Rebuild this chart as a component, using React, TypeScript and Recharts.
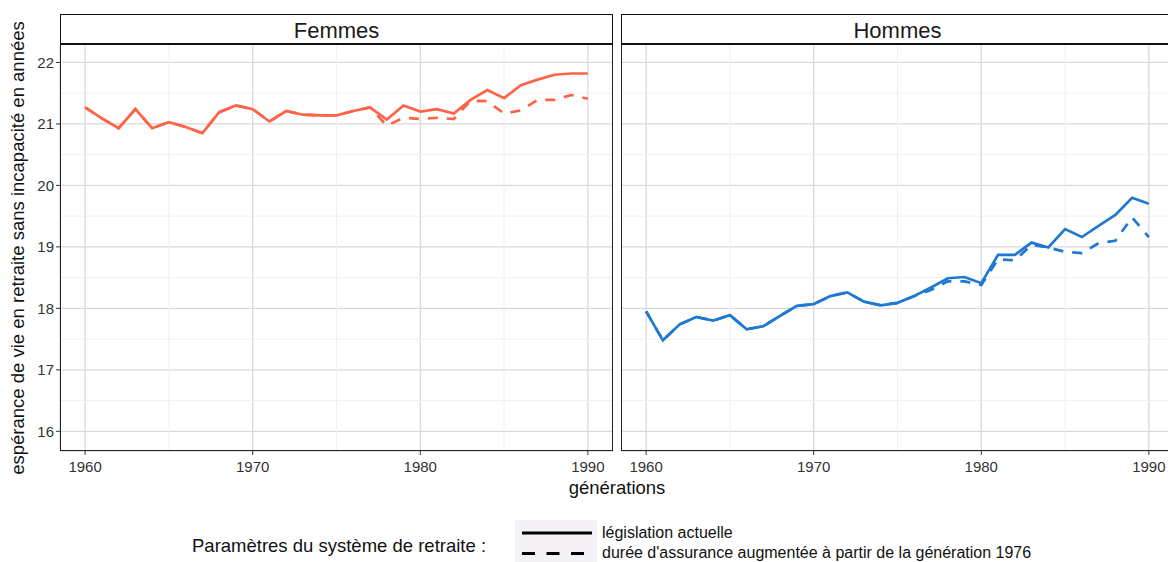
import React from 'react';
import { LineChart, Line, XAxis, YAxis, CartesianGrid, ReferenceLine } from 'recharts';

// générations 1960 → 1990
const generations = [
  1960, 1961, 1962, 1963, 1964, 1965, 1966, 1967, 1968, 1969,
  1970, 1971, 1972, 1973, 1974, 1975, 1976, 1977, 1978, 1979,
  1980, 1981, 1982, 1983, 1984, 1985, 1986, 1987, 1988, 1989, 1990,
];

// Femmes
const femmesActuelle = [
  21.27, 21.09, 20.93, 21.24, 20.93, 21.03, 20.95, 20.85, 21.19, 21.30,
  21.24, 21.04, 21.21, 21.15, 21.14, 21.14, 21.21, 21.27, 21.07, 21.30,
  21.20, 21.24, 21.17, 21.39, 21.55, 21.42, 21.63, 21.72, 21.80, 21.82, 21.82,
];
const femmesDuree = [
  21.27, 21.09, 20.93, 21.24, 20.93, 21.03, 20.95, 20.85, 21.19, 21.30,
  21.24, 21.04, 21.21, 21.15, 21.14, 21.14, 21.21, 21.27, 20.97, 21.10,
  21.08, 21.10, 21.08, 21.38, 21.37, 21.17, 21.22, 21.39, 21.39, 21.47, 21.41,
];

// Hommes
const hommesActuelle = [
  17.95, 17.48, 17.74, 17.86, 17.80, 17.89, 17.66, 17.71, 17.88, 18.04,
  18.07, 18.20, 18.26, 18.11, 18.05, 18.09, 18.20, 18.34, 18.49, 18.51,
  18.41, 18.87, 18.87, 19.07, 18.99, 19.29, 19.16, 19.34, 19.52, 19.80, 19.70,
];
const hommesDuree = [
  17.95, 17.48, 17.74, 17.86, 17.80, 17.89, 17.66, 17.71, 17.88, 18.04,
  18.07, 18.20, 18.26, 18.11, 18.05, 18.09, 18.20, 18.30, 18.44, 18.44,
  18.38, 18.80, 18.78, 19.03, 18.99, 18.92, 18.90, 19.06, 19.10, 19.48, 19.16,
];

const xTicks = [1960, 1970, 1980, 1990];
const xMinor = [1965, 1975, 1985];
const yTicks = [16, 17, 18, 19, 20, 21, 22];
const yMinor = [16.5, 17.5, 18.5, 19.5, 20.5, 21.5];

const legendLabels = [
  'législation actuelle',
  "durée d'assurance augmentée à partir de la génération 1976",
];

const FONT = '"Liberation Sans", Arial, sans-serif';
const TICK = { fill: '#333', fontSize: 15, fontFamily: FONT };

// plot box (px)
const PLOT_TOP = 44;
const PLOT_H = 407;
const PLOT_W = 553;
const AXIS_W = 60;

function rows(a: number[], d: number[]) {
  return generations.map((g, i) => ({ g, actuelle: a[i], duree: d[i] }));
}

interface PanelProps {
  title: string;
  color: string;
  data: { g: number; actuelle: number; duree: number }[];
  left: number;
  showY: boolean;
}

const Panel = ({ title, color, data, left, showY }: PanelProps) => {
  const yW = showY ? AXIS_W : 0;
  return (
    <>
      <div style={{ position: 'absolute', left: left - yW, top: 0 }}>
        <LineChart
          width={PLOT_W + yW}
          height={PLOT_TOP + PLOT_H + 30}
          data={data}
          margin={{ top: PLOT_TOP, right: 0, bottom: 0, left: 0 }}
        >
          <CartesianGrid stroke="#d9d9d9" strokeWidth={1.3} />
          {xMinor.map(v => (
            <ReferenceLine key={'x' + v} x={v} stroke="#efefef" strokeWidth={1} />
          ))}
          {yMinor.map(v => (
            <ReferenceLine key={'y' + v} y={v} stroke="#efefef" strokeWidth={1} />
          ))}
          <XAxis
            dataKey="g"
            type="number"
            domain={[1958.5, 1991.5]}
            ticks={xTicks}
            allowDataOverflow
            height={30}
            axisLine={false}
            tickLine={{ stroke: '#333' }}
            tickSize={4}
            tickMargin={6}
            tick={TICK}
          />
          <YAxis
            type="number"
            domain={[15.68, 22.3]}
            ticks={yTicks}
            allowDataOverflow
            hide={!showY}
            width={AXIS_W}
            axisLine={false}
            tickLine={{ stroke: '#333' }}
            tickSize={4}
            tickMargin={2}
            tick={TICK}
          />
          <Line type="linear" dataKey="duree" stroke={color} strokeWidth={2.7}
            strokeDasharray="10 9" dot={false} isAnimationActive={false} />
          <Line type="linear" dataKey="actuelle" stroke={color} strokeWidth={2.7}
            dot={false} isAnimationActive={false} />
        </LineChart>
      </div>
      {/* bordure du panneau */}
      <div style={{
        position: 'absolute', left, top: PLOT_TOP, width: PLOT_W, height: PLOT_H,
        border: '1.5px solid #222', boxSizing: 'border-box', pointerEvents: 'none',
      }} />
      {/* bandeau de facette */}
      <div style={{
        position: 'absolute', left, top: 14, width: PLOT_W, height: 31,
        borderTop: '1.5px solid #111', borderLeft: '1.5px solid #111',
        borderRight: '1.5px solid #111', borderBottom: '2.5px solid #111',
        boxSizing: 'border-box', background: '#fff', textAlign: 'center',
        fontFamily: FONT, fontSize: 22, lineHeight: '32px', color: '#1a1a1a',
      }}>{title}</div>
    </>
  );
};

export default function App() {
  return (
    <div style={{
      position: 'fixed', left: 0, top: 0, width: 1168, height: 562,
      overflow: 'hidden', background: '#fff', fontFamily: FONT,
    }}>
      {/* titre axe y */}
      <div style={{
        position: 'absolute', left: 18, top: PLOT_TOP + PLOT_H / 2,
        transform: 'translate(-50%, -50%) rotate(-90deg)', whiteSpace: 'nowrap',
        fontSize: 18.5, color: '#111',
      }}>espérance de vie en retraite sans incapacité en années</div>

      <Panel title="Femmes" color="#ff6347" data={rows(femmesActuelle, femmesDuree)} left={60} showY />
      <Panel title="Hommes" color="#1f78d1" data={rows(hommesActuelle, hommesDuree)} left={621} showY={false} />

      {/* titre axe x */}
      <div style={{
        position: 'absolute', left: 617, top: 488, transform: 'translate(-50%, -50%)',
        fontSize: 18.5, color: '#111', whiteSpace: 'nowrap',
      }}>générations</div>

      {/* légende */}
      <div style={{
        position: 'absolute', left: 192, top: 546, transform: 'translateY(-50%)',
        fontSize: 18.5, color: '#111', whiteSpace: 'nowrap',
      }}>Paramètres du système de retraite :</div>
      <svg style={{ position: 'absolute', left: 515, top: 520 }} width={82} height={42}>
        <rect x={0} y={0} width={82} height={42} fill="#f4f2f6" />
        <line x1={7} x2={77} y1={13} y2={13} stroke="#000" strokeWidth={2.8} />
        <line x1={7} x2={77} y1={33.5} y2={33.5} stroke="#000" strokeWidth={2.8} strokeDasharray="13 11.5" />
      </svg>
      {legendLabels.map((t, i) => (
        <div key={t} style={{
          position: 'absolute', left: 602, top: 533 + i * 20, transform: 'translateY(-50%)',
          fontSize: 16, lineHeight: '18px', color: '#111', whiteSpace: 'nowrap',
        }}>{t}</div>
      ))}
    </div>
  );
}
